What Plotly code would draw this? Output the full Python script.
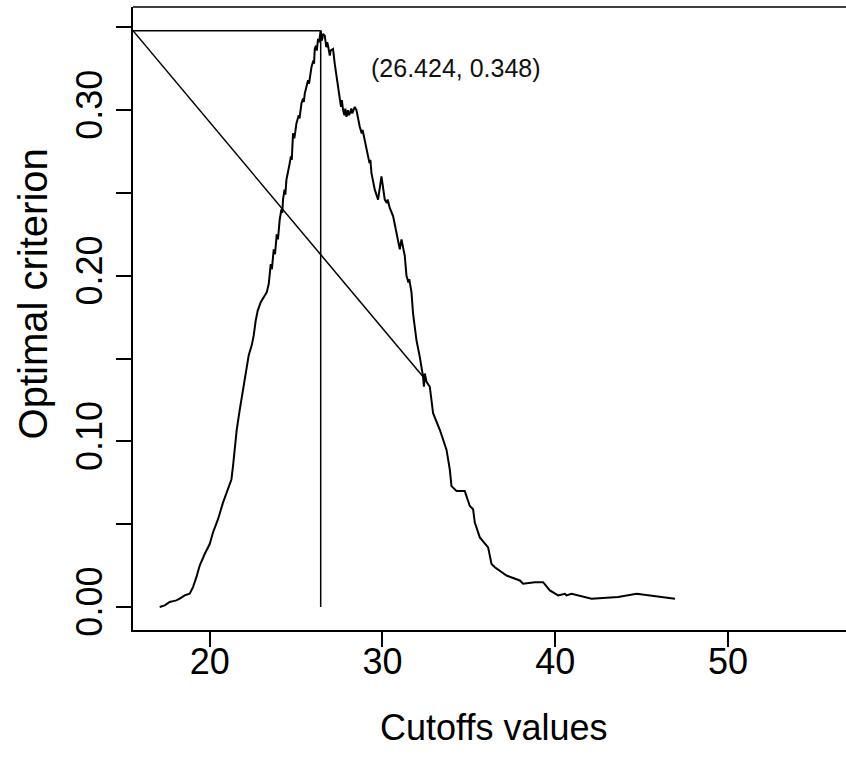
import plotly.graph_objects as go

# Criterion curve (cutoff value, optimal criterion)
cutoffs = [17.105, 17.394, 17.684, 18.072, 18.263, 18.552, 18.842, 19.033, 19.230, 19.421,
           19.710, 20.000, 20.191, 20.481, 20.770, 21.060, 21.257, 21.349, 21.448, 21.563,
           21.737, 21.911, 22.085, 22.258, 22.432, 22.548, 22.664, 22.779, 22.953, 23.127,
           23.301, 23.416, 23.532, 23.600, 23.706, 23.780, 23.880, 23.950, 24.053, 24.150,
           24.200, 24.244, 24.330, 24.380, 24.441, 24.632, 24.700, 24.750, 24.823, 24.900,
           25.020, 25.150, 25.200, 25.310, 25.400, 25.450, 25.501, 25.692, 25.750, 25.889,
           26.000, 26.040, 26.080, 26.150, 26.200, 26.271, 26.330, 26.424, 26.500, 26.560,
           26.659, 26.750, 26.800, 26.850, 26.950, 27.000, 27.139, 27.238, 27.429, 27.527,
           27.600, 27.650, 27.718, 27.800, 27.850, 27.915, 28.000, 28.050, 28.106, 28.200,
           28.250, 28.396, 28.494, 28.685, 28.800, 28.850, 28.975, 29.166, 29.250, 29.300,
           29.363, 29.554, 29.745, 29.942, 30.133, 30.250, 30.300, 30.423, 30.614, 30.811,
           31.002, 31.100, 31.291, 31.390, 31.500, 31.550, 31.679, 31.772, 31.969, 32.160,
           32.351, 32.400, 32.450, 32.550, 32.739, 32.930, 33.318, 33.706, 33.897, 33.995,
           34.285, 34.765, 35.055, 35.246, 35.344, 35.634, 36.115, 36.312, 36.503, 37.180,
           37.950, 38.141, 38.819, 39.299, 39.687, 40.168, 40.556, 40.654, 40.944, 42.102,
           43.642, 44.708, 46.930]
criterion = [0.000, 0.001, 0.003, 0.004, 0.005, 0.007, 0.008, 0.012, 0.018, 0.025,
             0.032, 0.038, 0.045, 0.053, 0.063, 0.071, 0.077, 0.085, 0.095, 0.107,
             0.119, 0.131, 0.143, 0.152, 0.158, 0.164, 0.173, 0.179, 0.184, 0.187,
             0.190, 0.195, 0.207, 0.204, 0.216, 0.213, 0.225, 0.222, 0.234, 0.240,
             0.238, 0.246, 0.252, 0.249, 0.258, 0.268, 0.272, 0.270, 0.286, 0.283,
             0.292, 0.297, 0.295, 0.304, 0.307, 0.305, 0.310, 0.318, 0.316, 0.326,
             0.330, 0.328, 0.337, 0.339, 0.336, 0.343, 0.341, 0.348, 0.342, 0.346,
             0.345, 0.338, 0.341, 0.339, 0.333, 0.336, 0.337, 0.328, 0.314, 0.307,
             0.302, 0.306, 0.300, 0.297, 0.301, 0.296, 0.300, 0.297, 0.298, 0.301,
             0.298, 0.302, 0.300, 0.290, 0.286, 0.288, 0.282, 0.274, 0.268, 0.270,
             0.262, 0.252, 0.246, 0.260, 0.246, 0.244, 0.246, 0.241, 0.236, 0.226,
             0.216, 0.222, 0.212, 0.200, 0.196, 0.198, 0.190, 0.177, 0.161, 0.151,
             0.139, 0.133, 0.141, 0.136, 0.133, 0.117, 0.107, 0.095, 0.083, 0.073,
             0.070, 0.070, 0.061, 0.059, 0.051, 0.042, 0.036, 0.026, 0.024, 0.019,
             0.016, 0.014, 0.015, 0.015, 0.010, 0.007, 0.008, 0.007, 0.008, 0.005,
             0.006, 0.008, 0.005]

# Optimal point
opt_x = 26.424
opt_y = 0.348
opt_label = "(26.424, 0.348)"

# Axis limits (R style, 4% expansion)
x_range = [15.56, 56.83]
y_range = [-0.0139, 0.3623]

# Diagonal reference line endpoints
diag_x = [15.56, 32.351]
diag_y = [0.348, 0.139]

# Ticks
x_ticks = [20, 30, 40, 50]
x_ticklabels = ["20", "30", "40", "50"]
y_ticks = [0.00, 0.05, 0.10, 0.15, 0.20, 0.25, 0.30, 0.35]
y_ticklabels = ["0.00", "", "0.10", "", "0.20", "", "0.30", ""]

x_title = "Cutoffs values"
y_title = "Optimal criterion"

FONT = "Liberation Sans, Arial, sans-serif"
tick_font = dict(family=FONT, size=36, color="#000")

fig = go.Figure()

fig.add_trace(go.Scatter(x=cutoffs, y=criterion, mode="lines",
                         line=dict(color="black", width=2), showlegend=False, hoverinfo="skip"))
# horizontal line to optimum
fig.add_trace(go.Scatter(x=[x_range[0], opt_x], y=[opt_y, opt_y], mode="lines",
                         line=dict(color="black", width=1.5), showlegend=False))
# vertical line at optimum
fig.add_trace(go.Scatter(x=[opt_x, opt_x], y=[0, opt_y], mode="lines",
                         line=dict(color="black", width=1.5), showlegend=False))
# diagonal line
fig.add_trace(go.Scatter(x=diag_x, y=diag_y, mode="lines",
                         line=dict(color="black", width=1.5), showlegend=False))

fig.add_annotation(x=34.24, y=0.3256, text=opt_label, showarrow=False,
                   font=dict(family=FONT, size=25, color="#111"),
                   xanchor="center", yanchor="middle")

# axis titles
fig.add_annotation(xref="paper", yref="paper", x=0.505, y=-0.1557, text=x_title,
                   showarrow=False, xanchor="center", yanchor="middle",
                   font=dict(family=FONT, size=36, color="#000"))
fig.add_annotation(xref="paper", yref="paper", x=-0.140, y=0.539, text=y_title,
                   showarrow=False, xanchor="center", yanchor="middle", textangle=-90,
                   font=dict(family=FONT, size=40, color="#000"))

# top border
fig.add_shape(type="line", xref="paper", yref="paper", x0=0, x1=1, y0=1, y1=1,
              line=dict(color="black", width=1.5))

fig.update_layout(
    width=846, height=759,
    margin=dict(l=133, r=0, t=7, b=129),
    paper_bgcolor="white", plot_bgcolor="white",
    xaxis=dict(range=x_range, tickvals=x_ticks, ticktext=x_ticklabels,
               showgrid=False, zeroline=False, showline=True, linecolor="black", linewidth=1.5,
               ticks="outside", ticklen=15, tickwidth=1.5, tickcolor="black",
               tickfont=tick_font, ticklabelstandoff=-16),
    yaxis=dict(range=y_range, tickvals=y_ticks, ticktext=y_ticklabels,
               showgrid=False, zeroline=False, showline=True, linecolor="black", linewidth=1.5,
               ticks="outside", ticklen=15, tickwidth=1.5, tickcolor="black",
               tickfont=tick_font, tickangle=-90, ticklabelstandoff=0),
)

fig.write_html("out.html")
